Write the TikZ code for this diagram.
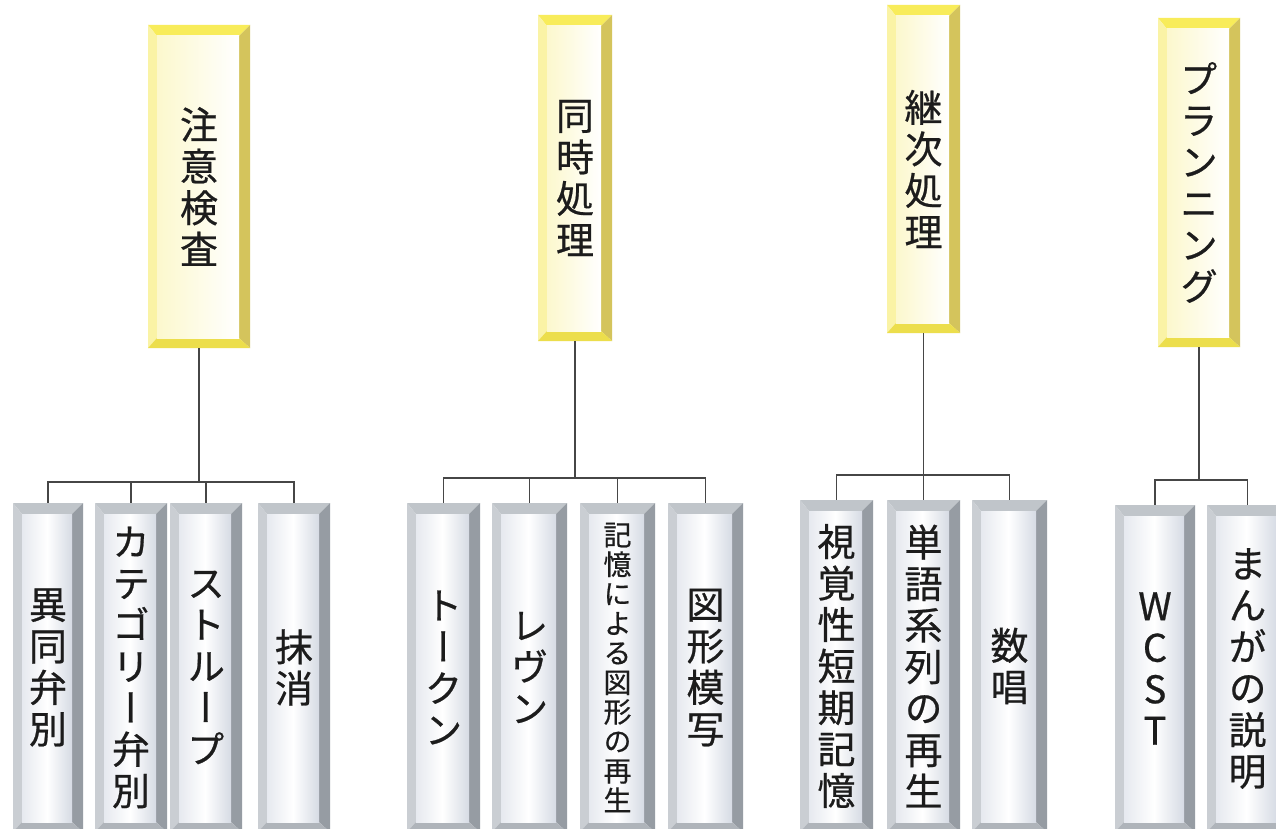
\documentclass[tikz,border=0pt]{standalone}
\usepackage{fontspec}
\newfontfamily\cjk[RawFeature=+vert, FakeBold=0.6]{Noto Sans CJK JP}
\usetikzlibrary{calc}
\definecolor{ytop}{RGB}{248,236,90}
\definecolor{yleft}{RGB}{250,243,165}
\definecolor{yright}{RGB}{212,196,92}
\definecolor{ybot}{RGB}{236,222,76}
\definecolor{yin}{RGB}{252,248,205}
\definecolor{gtop}{RGB}{192,197,202}
\definecolor{gleft}{RGB}{202,206,211}
\definecolor{gright}{RGB}{150,156,163}
\definecolor{gbot}{RGB}{175,180,186}
\definecolor{gin}{RGB}{230,233,239}
\definecolor{gin2}{RGB}{214,219,228}
\definecolor{linec}{RGB}{70,70,70}
\definecolor{txt}{RGB}{28,28,28}
\newcommand\bevelfill[5]{%
 \fill[#1] (path picture bounding box.north west) -- (path picture bounding box.north east) -- ([xshift=-11pt,yshift=-11pt]path picture bounding box.north east) -- ([xshift=9pt,yshift=-11pt]path picture bounding box.north west) -- cycle;
 \fill[#2] (path picture bounding box.north west) -- ([xshift=9pt,yshift=-11pt]path picture bounding box.north west) -- ([xshift=9pt,yshift=10pt]path picture bounding box.south west) -- (path picture bounding box.south west) -- cycle;
 \fill[#3] (path picture bounding box.north east) -- ([xshift=-11pt,yshift=-11pt]path picture bounding box.north east) -- ([xshift=-11pt,yshift=10pt]path picture bounding box.south east) -- (path picture bounding box.south east) -- cycle;
 \fill[#4] (path picture bounding box.south west) -- ([xshift=9pt,yshift=10pt]path picture bounding box.south west) -- ([xshift=-11pt,yshift=10pt]path picture bounding box.south east) -- (path picture bounding box.south east) -- cycle;
 \fill[#5] ([xshift=9pt,yshift=-11pt]path picture bounding box.north west) rectangle ([xshift=-11pt,yshift=10pt]path picture bounding box.south east);
}
\tikzset{
 x=1pt, y=-1pt,
 boxbase/.style={rectangle, fill=white, inner sep=0pt, align=center, text=txt,
   font=\cjk\fontsize{38}{41.5}\selectfont},
 topbox/.style={boxbase, path picture={\bevelfill{ytop}{yleft}{yright}{ybot}{left color=yin, right color=white}}},
 botbox/.style={boxbase, path picture={\bevelfill{gtop}{gleft}{gright}{gbot}{left color=gin, right color=gin2, middle color=white}}},
 small/.style={font=\cjk\fontsize{28}{29.5}\selectfont},
 conn/.style={draw=linec, line width=1.2pt}
}
\begin{document}
\begin{tikzpicture}
\useasboundingbox (0,0) rectangle (1276,829);
\fill[white] (0,0) rectangle (1276,829);
\clip (0,0) rectangle (1276,829);
% top boxes
\node[topbox, minimum width=102pt, minimum height=323pt] (t1) at (199,186.5) {注\\意\\検\\査};
\node[topbox, minimum width=74pt, minimum height=326pt] (t2) at (575,178) {同\\時\\処\\理};
\node[topbox, minimum width=73pt, minimum height=328pt] (t3) at (923.5,169) {継\\次\\処\\理};
\node[topbox, minimum width=82pt, minimum height=329pt] (t4) at (1199,182.5) {プ\\ラ\\ン\\ニ\\ン\\グ};
% bottom boxes
\node[botbox, minimum width=70pt, minimum height=329pt] (b1) at (48,667.5) {異\\同\\弁\\別};
\node[botbox, minimum width=72pt, minimum height=329pt] (b2) at (131,667.5) {カ\\テ\\ゴ\\リ\\ー\\弁\\別};
\node[botbox, minimum width=72pt, minimum height=329pt] (b3) at (206,667.5) {ス\\ト\\ル\\ー\\プ};
\node[botbox, minimum width=72pt, minimum height=329pt] (b4) at (294,667.5) {抹\\消};
\node[botbox, minimum width=73pt, minimum height=329pt] (b5) at (443.5,667.5) {ト\\ー\\ク\\ン};
\node[botbox, minimum width=75pt, minimum height=329pt] (b6) at (529.5,667.5) {レ\\ヴ\\ン};
\node[botbox, small, minimum width=75pt, minimum height=329pt] (b7) at (617.5,667.5) {記\\憶\\に\\よ\\る\\図\\形\\の\\再\\生};
\node[botbox, minimum width=75pt, minimum height=329pt] (b8) at (705.5,667.5) {図\\形\\模\\写};
\node[botbox, minimum width=73pt, minimum height=332pt] (b9) at (836.5,666) {視\\覚\\性\\短\\期\\記\\憶};
\node[botbox, minimum width=73pt, minimum height=332pt] (b10) at (923.5,666) {単\\語\\系\\列\\の\\再\\生};
\node[botbox, minimum width=75pt, minimum height=332pt] (b11) at (1009.5,666) {数\\唱};
\node[botbox, minimum width=80pt, minimum height=327pt] (b12) at (1155,668.5) {W\\C\\S\\T};
\node[botbox, minimum width=81pt, minimum height=327pt] (b13) at (1247.5,668.5) {ま\\ん\\が\\の\\説\\明};
% junctions
\coordinate (j1) at (199,482);
\coordinate (j2) at (575,478);
\coordinate (j3) at (923.5,475);
\coordinate (j4) at (1199,480);
% connectors
\draw[conn] (t1.south) -- (j1);
\draw[conn] (b1.north) |- (j1);
\draw[conn] (b2.north) |- (j1);
\draw[conn] (b3.north) |- (j1);
\draw[conn] (b4.north) |- (j1);
\draw[conn] (t2.south) -- (j2);
\draw[conn] (b5.north) |- (j2);
\draw[conn] (b6.north) |- (j2);
\draw[conn] (b7.north) |- (j2);
\draw[conn] (b8.north) |- (j2);
\draw[conn] (t3.south) -- (j3);
\draw[conn] (b9.north) |- (j3);
\draw[conn] (b10.north) |- (j3);
\draw[conn] (b11.north) |- (j3);
\draw[conn] (t4.south) -- (j4);
\draw[conn] (b12.north) |- (j4);
\draw[conn] (b13.north) |- (j4);
\end{tikzpicture}
\end{document}
